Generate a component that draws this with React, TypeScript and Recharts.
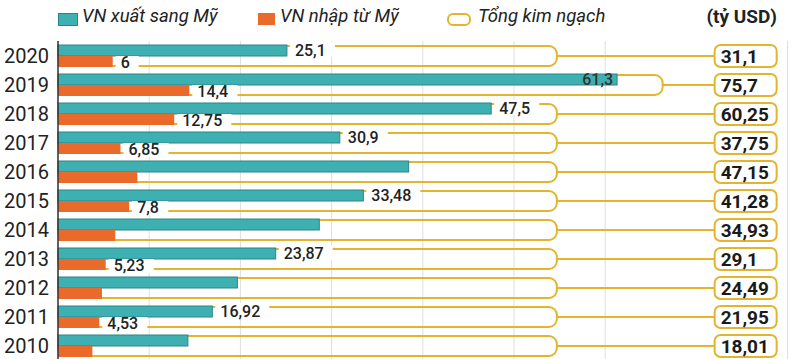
import { BarChart, Bar, XAxis, YAxis, CartesianGrid } from 'recharts';

const years = ['2020', '2019', '2018', '2017', '2016', '2015', '2014', '2013', '2012', '2011', '2010'];
const exportVals = [25.1, 61.3, 47.5, 30.9, 38.45, 33.48, 28.65, 23.87, 19.67, 16.92, 14.24];
const importVals = [6, 14.4, 12.75, 6.85, 8.7, 7.8, 6.28, 5.23, 4.82, 4.53, 3.77];
const exportLabels = ['25,1', '61,3', '47,5', '30,9', null, '33,48', null, '23,87', null, '16,92', null];
const importLabels = ['6', '14,4', '12,75', '6,85', null, '7,8', null, '5,23', null, '4,53', null];
const totalLabels = ['31,1', '75,7', '60,25', '37,75', '47,15', '41,28', '34,93', '29,1', '24,49', '21,95', '18,01'];

const data = years.map((year, i) => ({
	year,
	exp: exportVals[i],
	imp: importVals[i],
	expLabel: exportLabels[i],
	impLabel: importLabels[i],
	total: totalLabels[i],
}));

const TEAL = '#3fb0b1';
const TEAL_EDGE = '#2b8588';
const ORANGE = '#ea6a2b';
const GOLD = '#e3b52f';
const FONT = 'Roboto, sans-serif';

// bracket / pill positions in axis units
const BRACKET_END = 54.7;
const PILL_START = 72;
const PILL_END = 78.8;

const textW = (s: string, fs: number) =>
	s.split('').reduce((a, c) => a + (c === ',' ? 0.26 : 0.56) * fs, 0);

const ExportShape = (props: any) => {
	const { x, y, width, height, payload } = props;
	const k = width / payload.exp;
	const right = x + Math.max(BRACKET_END, payload.exp + 5) * k;
	const top = y + 1;
	const bottom = y + 2 * height - 1;
	const mid = y + height;
	const p1 = x + PILL_START * k;
	const p2 = x + PILL_END * k;
	const inside = payload.exp + 5 > BRACKET_END;
	const lbl = payload.expLabel;
	return (
		<g>
			<rect x={x} y={top} width={right - x} height={bottom - top} rx={8} fill='none' stroke={GOLD} strokeWidth={2} />
			<line x1={right} y1={mid} x2={p1} y2={mid} stroke={GOLD} strokeWidth={2} />
			<rect x={p1} y={mid - 11} width={p2 - p1} height={22} rx={6} fill='#fff' stroke={GOLD} strokeWidth={2} />
			<text x={p1 + 6} y={mid + 6.5} fontSize={19} fontWeight={700} fill='#1a1a1a' fontFamily={FONT}>
				{payload.total}
			</text>
			<rect x={x} y={y} width={width} height={height} fill={TEAL} stroke={TEAL_EDGE} strokeWidth={1} />
			{lbl && inside && (
				<text x={x + width - 4} y={y + height / 2 + 5.5} textAnchor='end' fontSize={16} fontWeight={500} fill='#333' fontFamily={FONT}>
					{lbl}
				</text>
			)}
			{lbl && !inside && (
				<g>
					<rect x={x + width + 3} y={y - 3} width={textW(lbl, 16) + 14} height={height + 4} fill='#fff' />
					<text x={x + width + 8} y={y + height / 2 + 5.5} fontSize={16} fontWeight={500} fill='#222' fontFamily={FONT}>
						{lbl}
					</text>
				</g>
			)}
		</g>
	);
};

const ImportShape = (props: any) => {
	const { x, y, width, height, payload } = props;
	const lbl = payload.impLabel;
	return (
		<g>
			<rect x={x} y={y} width={width} height={height} fill={ORANGE} />
			{lbl && (
				<g>
					<rect x={x + width + 3} y={y} width={textW(lbl, 16) + 14} height={height + 3} fill='#fff' />
					<text x={x + width + 8} y={y + height / 2 + 6.5} fontSize={16} fontWeight={500} fill='#222' fontFamily={FONT}>
						{lbl}
					</text>
				</g>
			)}
		</g>
	);
};

const YearTick = (props: any) => {
	const { y, payload } = props;
	return (
		<text x={4} y={y + 7} fontSize={20} fill='#222' fontFamily={FONT}>
			{payload.value}
		</text>
	);
};

const legendText = { fontFamily: FONT, fontSize: 18.5, fontStyle: 'italic', color: '#222', position: 'absolute', top: 5 } as const;

export default function App() {
	return (
		<div style={{ position: 'absolute', left: 0, top: 0, width: 800, height: 359, background: '#fff', overflow: 'hidden' }}>
			<div style={{ position: 'absolute', left: 58, top: 13, width: 18, height: 11, background: TEAL, border: `1px solid ${TEAL_EDGE}` }} />
			<div style={{ ...legendText, left: 82 }}>VN xuất sang Mỹ</div>
			<div style={{ position: 'absolute', left: 258, top: 13, width: 17, height: 12, background: ORANGE }} />
			<div style={{ ...legendText, left: 280 }}>VN nhập từ Mỹ</div>
			<div style={{ position: 'absolute', left: 447, top: 13, width: 20, height: 9, border: `2px solid ${GOLD}`, borderRadius: 6 }} />
			<div style={{ ...legendText, left: 478 }}>Tổng kim ngạch</div>
			<div style={{ position: 'absolute', right: 23, top: 5, fontFamily: FONT, fontSize: 19, fontWeight: 700, color: '#222' }}>(tỷ USD)</div>
			<BarChart
				width={800}
				height={360}
				layout='vertical'
				data={data}
				margin={{ top: 41, right: 12.4, left: 0, bottom: 0 }}
				barCategoryGap={4}
				barGap={0}
			>
				<CartesianGrid horizontal={false} stroke='#dedede' />
				<XAxis type='number' domain={[0, 80]} ticks={[0, 10, 20, 30, 40, 50, 60]} hide />
				<YAxis
					type='category'
					dataKey='year'
					width={58}
					axisLine={{ stroke: '#333', strokeWidth: 1.5 }}
					tickLine={false}
					tick={<YearTick />}
				/>
				<Bar dataKey='exp' shape={<ExportShape />} isAnimationActive={false} />
				<Bar dataKey='imp' shape={<ImportShape />} isAnimationActive={false} />
			</BarChart>
		</div>
	);
}
